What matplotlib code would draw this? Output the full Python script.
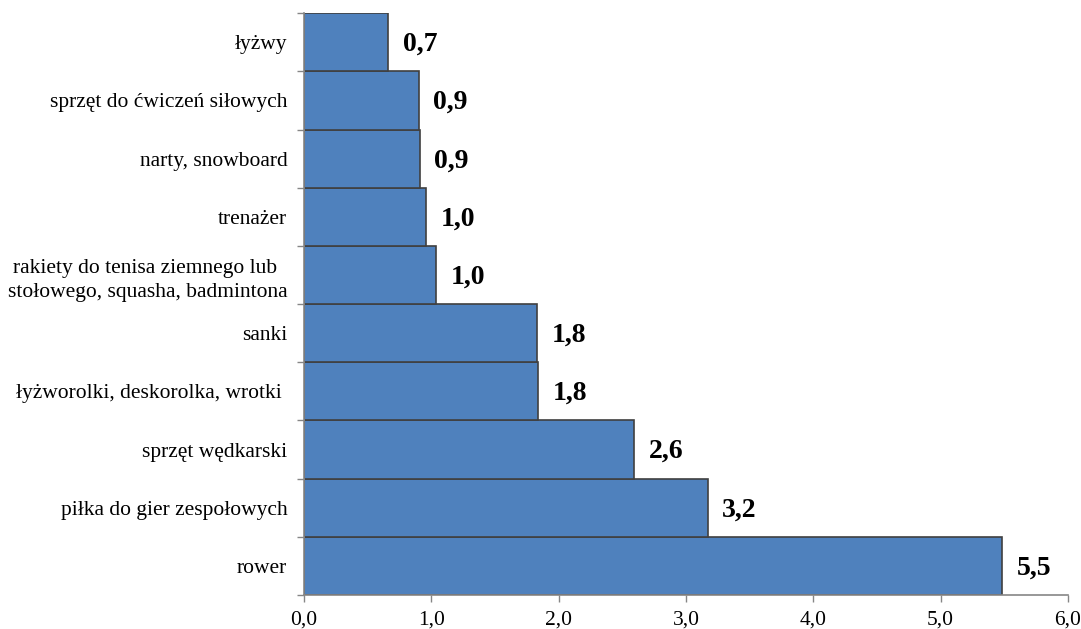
import matplotlib
matplotlib.use("Agg")
import matplotlib.pyplot as plt
from matplotlib.ticker import FuncFormatter
import numpy as np

plt.rcParams["font.family"] = ["Liberation Serif", "DejaVu Serif"]

categories = [
    "rower",
    "piłka do gier zespołowych",
    "sprzęt wędkarski",
    "łyżworolki, deskorolka, wrotki ",
    "sanki",
    "rakiety do tenisa ziemnego lub \nstołowego, squasha, badmintona",
    "trenażer",
    "narty, snowboard",
    "sprzęt do ćwiczeń siłowych",
    "łyżwy",
]
values = [5.48, 3.17, 2.59, 1.84, 1.83, 1.04, 0.96, 0.91, 0.90, 0.66]
labels = ["5,5", "3,2", "2,6", "1,8", "1,8", "1,0", "1,0", "0,9", "0,9", "0,7"]

fig = plt.figure(figsize=(10.81, 6.29), dpi=100)
ax = fig.add_axes([0.2812, 0.054, 0.988 - 0.2812, 0.979 - 0.054])

y = np.arange(len(categories))
bars = ax.barh(y, values, height=1.0, color="#4F81BD", edgecolor="#404040", linewidth=1.2)

for bar, lab in zip(bars, labels):
    ax.annotate(lab, (bar.get_width(), bar.get_y() + bar.get_height() / 2),
                xytext=(10.5, -1.5), textcoords="offset points",
                ha="left", va="center", fontsize=20, fontweight="bold", color="black")

ax.set_xlim(0, 6)
ax.set_ylim(-0.5, len(categories) - 0.5)
ax.set_xticks(np.arange(0, 7, 1))
ax.xaxis.set_major_formatter(FuncFormatter(lambda v, p: f"{v:.1f}".replace(".", ",")))

# category labels at bar centres, tick marks at bar boundaries
ax.set_yticks(np.arange(-0.5, len(categories), 1))
ax.set_yticklabels([])
ax.set_yticks(y, minor=True)
ax.set_yticklabels(categories, minor=True, fontsize=15.5)
for t in ax.get_yticklabels(minor=True):
    t.set_multialignment("center")
    t.set_linespacing(1.4)
ax.tick_params(axis="y", which="minor", length=0, pad=12)
ax.tick_params(axis="y", which="major", length=5, width=1, color="#868686", direction="out")
ax.tick_params(axis="x", length=5, width=1, color="#868686", labelsize=15.5, pad=6)

for s in ["top", "right"]:
    ax.spines[s].set_visible(False)
for s in ["left", "bottom"]:
    ax.spines[s].set_color("#868686")
    ax.spines[s].set_linewidth(1.2)

fig.savefig("out.png", dpi=100, facecolor="white")
